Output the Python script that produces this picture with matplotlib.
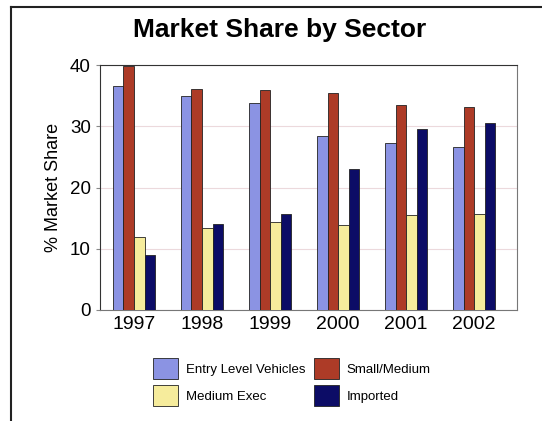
import matplotlib
matplotlib.use("Agg")
import matplotlib.pyplot as plt
import numpy as np

plt.rcParams['font.family'] = ['Liberation Sans', 'DejaVu Sans']

years = ["1997", "1998", "1999", "2000", "2001", "2002"]
entry_level = [36.6, 34.9, 33.8, 28.4, 27.3, 26.6]
small_medium = [39.8, 36.1, 35.9, 35.5, 33.5, 33.2]
medium_exec = [12.0, 13.4, 14.4, 13.8, 15.5, 15.7]
imported = [9.0, 14.1, 15.6, 23.1, 29.5, 30.5]

series = [
    ("Entry Level Vehicles", entry_level, "#8b93e3"),
    ("Small/Medium", small_medium, "#ad3b27"),
    ("Medium Exec", medium_exec, "#f6ec9c"),
    ("Imported", imported, "#0c0c66"),
]

fig = plt.figure(figsize=(5.42, 4.21), dpi=100)
ax = fig.add_axes([100 / 542, 1 - 310 / 421, 417 / 542, 245 / 421])

x = np.arange(len(years))
w = 0.155
bars = []
for i, (name, vals, col) in enumerate(series):
    b = ax.bar(x + (i - 1.5) * w, vals, w, color=col, edgecolor="#222222",
               linewidth=0.6, label=name, zorder=3)
    bars.append(b)

ax.set_xlim(-0.5, 5.63)
ax.set_ylim(0, 40)
ax.set_yticks([0, 10, 20, 30, 40])
ax.set_xticks(x)
ax.set_xticklabels(years)
ax.tick_params(axis="y", labelsize=13.5, length=3, color="#888888")
ax.tick_params(axis="x", labelsize=14, length=0, pad=4)
ax.yaxis.grid(True, color="#ecd9dc", linewidth=0.8, zorder=0)
ax.set_ylabel("% Market Share", fontsize=13, labelpad=6)

for side in ["left", "top"]:
    ax.spines[side].set_color("#333333")
for side in ["right", "bottom"]:
    ax.spines[side].set_color("#777777")

fig.text(280 / 542, 1 - 30 / 421, "Market Share by Sector", fontsize=19,
         fontweight="bold", ha="center", va="center")

# legend filled column-wise: Entry / Medium Exec, then Small/Medium / Imported
order = [0, 2, 1, 3]
fig.legend([bars[i] for i in order], [series[i][0] for i in order],
           ncol=2, loc="center", bbox_to_anchor=(292 / 542, 1 - 382 / 421),
           frameon=False, fontsize=9.5, handlelength=1.9, handleheight=2.1,
           columnspacing=0.6, handletextpad=0.6, labelspacing=0.45)

# outer frame lines along the top and left
fig.add_artist(plt.Line2D([11 / 542, 1], [1 - 7 / 421, 1 - 7 / 421],
                          color="#222222", linewidth=1.5))
fig.add_artist(plt.Line2D([11 / 542, 11 / 542], [0, 1 - 7 / 421],
                          color="#222222", linewidth=1.5))

fig.savefig("out.png", dpi=100)
